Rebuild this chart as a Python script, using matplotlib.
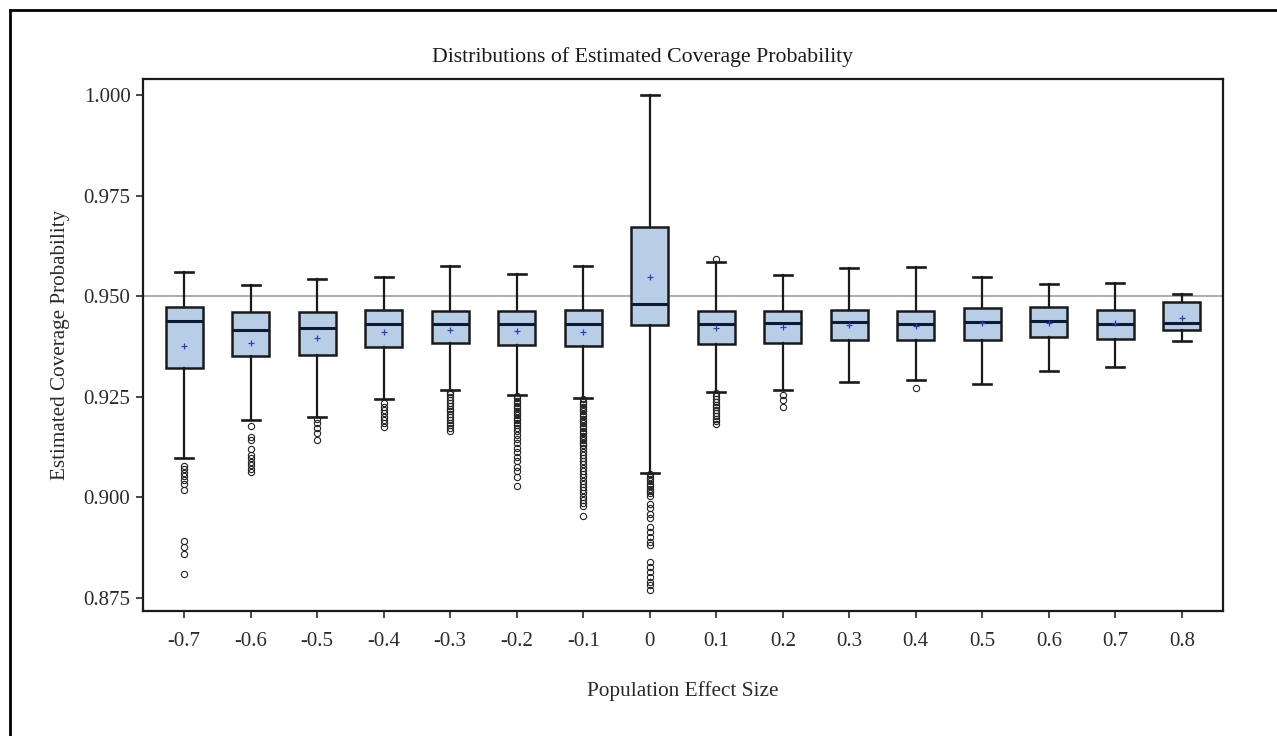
import matplotlib
matplotlib.use("Agg")
import matplotlib.pyplot as plt
from matplotlib.lines import Line2D

plt.rcParams['font.family'] = ['Liberation Serif', 'DejaVu Serif']

effect_sizes = ["-0.7", "-0.6", "-0.5", "-0.4", "-0.3", "-0.2", "-0.1", "0",
                "0.1", "0.2", "0.3", "0.4", "0.5", "0.6", "0.7", "0.8"]
whisker_high = [0.9559, 0.9528, 0.9544, 0.9547, 0.9575, 0.9555, 0.9575, 1.0000,
                0.9585, 0.9552, 0.9569, 0.9573, 0.9548, 0.9531, 0.9533, 0.9505]
q3 = [0.9474, 0.9461, 0.9461, 0.9467, 0.9464, 0.9464, 0.9467, 0.9672,
      0.9464, 0.9463, 0.9467, 0.9464, 0.9470, 0.9474, 0.9467, 0.9486]
medians = [0.9439, 0.9415, 0.9420, 0.9432, 0.9432, 0.9432, 0.9430, 0.9481,
           0.9430, 0.9433, 0.9436, 0.9430, 0.9436, 0.9438, 0.9432, 0.9433]
means = [0.9377, 0.9384, 0.9397, 0.9410, 0.9415, 0.9413, 0.9410, 0.9548,
         0.9421, 0.9424, 0.9428, 0.9426, 0.9433, 0.9433, 0.9433, 0.9445]
q1 = [0.9321, 0.9351, 0.9355, 0.9373, 0.9384, 0.9380, 0.9376, 0.9428,
      0.9381, 0.9384, 0.9391, 0.9391, 0.9391, 0.9399, 0.9394, 0.9415]
whisker_low = [0.9097, 0.9192, 0.9201, 0.9245, 0.9267, 0.9255, 0.9246, 0.9061,
               0.9263, 0.9267, 0.9287, 0.9293, 0.9282, 0.9314, 0.9325, 0.9389]

outliers_m07 = [0.9078, 0.9070, 0.9062, 0.9054, 0.9044, 0.9034, 0.9019,
                0.8892, 0.8876, 0.8859, 0.8811]
outliers_m06 = [0.9178, 0.9151, 0.9143, 0.9120, 0.9105, 0.9097, 0.9089,
                0.9081, 0.9072, 0.9064]
outliers_m05 = [0.9194, 0.9184, 0.9172, 0.9159, 0.9143]
outliers_m04 = [0.9234, 0.9226, 0.9218, 0.9209, 0.9201, 0.9193, 0.9184, 0.9176]
outliers_m03 = [0.9263, 0.9256, 0.9249, 0.9242, 0.9235, 0.9228, 0.9221, 0.9214,
                0.9207, 0.9200, 0.9193, 0.9186, 0.9179, 0.9172, 0.9165]
outliers_m02 = [0.9252, 0.9246, 0.9240, 0.9234, 0.9228, 0.9222, 0.9216, 0.9210,
                0.9204, 0.9198, 0.9192, 0.9186, 0.9180, 0.9172, 0.9164, 0.9156,
                0.9146, 0.9136, 0.9124, 0.9112, 0.9100, 0.9090,
                0.9076, 0.9066, 0.9051, 0.9029]
outliers_m01 = [0.9244, 0.9238, 0.9232, 0.9226, 0.9220, 0.9214, 0.9208, 0.9202,
                0.9196, 0.9190, 0.9184, 0.9178, 0.9172, 0.9166, 0.9160, 0.9154,
                0.9148, 0.9142, 0.9136, 0.9130, 0.9122, 0.9114, 0.9106, 0.9098,
                0.9090, 0.9082, 0.9074, 0.9066, 0.9058, 0.9050, 0.9042, 0.9034,
                0.9026, 0.9018, 0.9010, 0.9002, 0.8994, 0.8986, 0.8978, 0.8954]
outliers_0 = [0.9058, 0.9052, 0.9046, 0.9040, 0.9034, 0.9028, 0.9022, 0.9016,
              0.9010, 0.9003, 0.8985, 0.8973, 0.8960, 0.8948,
              0.8927, 0.8915, 0.8902, 0.8890, 0.8882,
              0.8840, 0.8828, 0.8815, 0.8803, 0.8790, 0.8782, 0.8770]
outliers_01 = [0.9593, 0.9259, 0.9252, 0.9245, 0.9238, 0.9231, 0.9224, 0.9217,
               0.9210, 0.9203, 0.9196, 0.9189, 0.9182]
outliers_02 = [0.9254, 0.9242, 0.9225]
outliers_04 = [0.9273]
outlier_sets = [outliers_m07, outliers_m06, outliers_m05, outliers_m04,
                outliers_m03, outliers_m02, outliers_m01, outliers_0,
                outliers_01, outliers_02, [], outliers_04, [], [], [], []]

reference_level = 0.950
yticks = [0.875, 0.900, 0.925, 0.950, 0.975, 1.000]

stats = []
for i in range(len(effect_sizes)):
    stats.append(dict(label=effect_sizes[i], med=medians[i], q1=q1[i], q3=q3[i],
                      whislo=whisker_low[i], whishi=whisker_high[i],
                      mean=means[i], fliers=outlier_sets[i]))

fig = plt.figure(figsize=(12.77, 7.36), dpi=100)
ax = fig.add_axes([143/1277, 1-611/736, (1223-143)/1277, (611-79.3)/736])

ax.axhline(reference_level, color='#a0a0a0', lw=1.2, zorder=0)

positions = list(range(len(effect_sizes)))
ax.bxp(stats, positions=positions, widths=0.55, capwidths=0.27,
       showmeans=True, showfliers=True, patch_artist=True,
       boxprops=dict(facecolor='#b8cde6', edgecolor='#1a1a1a', linewidth=1.8),
       medianprops=dict(color='#0d1a33', linewidth=2.2),
       whiskerprops=dict(color='#1a1a1a', linewidth=1.6),
       capprops=dict(color='#1a1a1a', linewidth=1.9),
       meanprops=dict(marker='+', markeredgecolor='#2b3fbf', markersize=5,
                      markeredgewidth=0.9),
       flierprops=dict(marker='o', markerfacecolor='none', markeredgecolor='#222222',
                       markersize=4.5, markeredgewidth=0.8))

ax.set_xlim(-0.62, 15.62)
ax.set_ylim(0.8718, 1.0039)
ax.set_yticks(yticks)
ax.set_yticklabels([f"{v:.3f}" for v in yticks])
ax.set_xticks(positions)
ax.set_xticklabels(effect_sizes)
ax.tick_params(axis='both', direction='out', length=5, width=1.2,
               labelsize=15, colors='#2a2a2a', pad=4)
ax.tick_params(axis='x', pad=10)
for s in ax.spines.values():
    s.set_linewidth(1.6)
    s.set_color('#1a1a1a')

fig.text(642/1277, 1-57/736, "Distributions of Estimated Coverage Probability",
         fontsize=15.7, ha='center', va='center', color='#1a1a1a')
ax.set_xlabel("Population Effect Size", fontsize=15.3, labelpad=22, color='#2a2a2a')
ax.set_ylabel("Estimated Coverage Probability", fontsize=15.2, labelpad=10, color='#2a2a2a')

# outer frame (left and top edges)
fig.add_artist(Line2D([10/1277, 10/1277], [0, 1-10/736], transform=fig.transFigure,
                      color='black', lw=2))
fig.add_artist(Line2D([10/1277, 1], [1-10/736, 1-10/736], transform=fig.transFigure,
                      color='black', lw=2))

fig.savefig("out.png", dpi=100)
